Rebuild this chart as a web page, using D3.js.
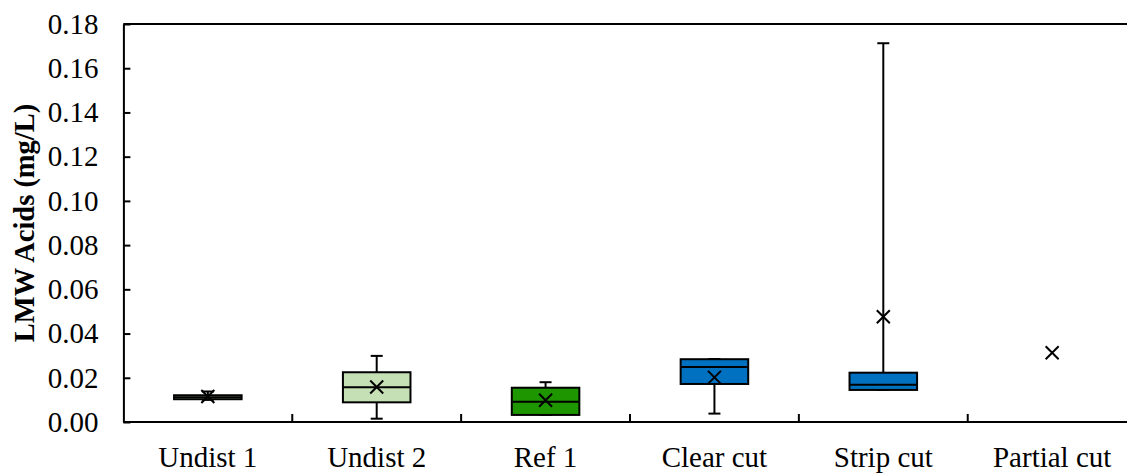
<!DOCTYPE html>
<html>
<head>
<meta charset="utf-8">
<script src="https://cdn.jsdelivr.net/npm/d3@7"></script>
<style>
  html, body { margin: 0; padding: 0; background: #fff; }
  svg { display: block; }
</style>
</head>
<body>
<svg id="chart" width="1127" height="473"></svg>
<script>
// Sites along the x axis
const categories = ["Undist 1", "Undist 2", "Ref 1", "Clear cut", "Strip cut", "Partial cut"];
// Box-plot statistics per site (mg/L); null where a site has only a mean
const minValues    = [0.0100, 0.0015, 0.0032, 0.0038, 0.0145, null];
const q1Values     = [0.0103, 0.0089, 0.0032, 0.0172, 0.0145, null];
const medianValues = [0.0112, 0.0157, 0.0092, 0.0249, 0.0169, null];
const q3Values     = [0.0121, 0.0225, 0.0155, 0.0284, 0.0223, null];
const maxValues    = [0.0138, 0.0299, 0.0180, 0.0285, 0.1713, null];
const meanValues   = [0.0115, 0.0158, 0.0098, 0.0202, 0.0476, 0.0313];
const fillColors   = ["#A9D18E", "#C5E0B4", "#1E9600", "#0070C0", "#0070C0", "#0070C0"];
const yTicks = [0, 0.02, 0.04, 0.06, 0.08, 0.10, 0.12, 0.14, 0.16, 0.18];

(function () {
  const svg = d3.select("#chart");
  const mLeft = 123.4, mRight = 1136.6, mTop = 24, mBottom = 422;
  const font = "'Liberation Serif', 'Times New Roman', serif";

  const x = d3.scaleBand().domain(categories).range([mLeft, mRight]).paddingInner(0).paddingOuter(0);
  const y = d3.scaleLinear().domain([0, 0.18]).range([mBottom, mTop]);

  const data = categories.map((c, i) => ({
    cat: c, min: minValues[i], q1: q1Values[i], med: medianValues[i],
    q3: q3Values[i], max: maxValues[i], mean: meanValues[i], fill: fillColors[i]
  }));

  // Plot frame (top and right edges)
  svg.append("line").attr("x1", mLeft).attr("x2", mRight).attr("y1", mTop).attr("y2", mTop)
    .attr("stroke", "#000").attr("stroke-width", 2);
  svg.append("line").attr("x1", mRight).attr("x2", mRight).attr("y1", mTop).attr("y2", mBottom)
    .attr("stroke", "#000").attr("stroke-width", 2);

  // Y axis with inward ticks
  const yAxis = svg.append("g").attr("transform", `translate(${mLeft},0)`)
    .call(d3.axisLeft(y).tickValues(yTicks).tickFormat(d3.format(".2f")).tickSizeInner(-7).tickSizeOuter(0).tickPadding(25));
  yAxis.attr("font-family", font).attr("font-size", 29);
  yAxis.select(".domain").attr("stroke", "#000").attr("stroke-width", 2);
  yAxis.selectAll(".tick line").attr("stroke", "#000").attr("stroke-width", 2);
  yAxis.selectAll(".tick text").attr("fill", "#000");

  // X axis: ticks between categories, pointing up
  const bounds = categories.slice(1).map(c => x(c));
  const xAxis = svg.append("g").attr("transform", `translate(0,${mBottom})`);
  xAxis.append("line").attr("x1", mLeft).attr("x2", mRight).attr("stroke", "#000").attr("stroke-width", 2);
  xAxis.selectAll(".sep").data(bounds).join("line").attr("class", "sep")
    .attr("x1", d => d).attr("x2", d => d).attr("y1", 0).attr("y2", -8)
    .attr("stroke", "#000").attr("stroke-width", 2);
  xAxis.selectAll(".lab").data(categories).join("text").attr("class", "lab")
    .attr("x", d => x(d) + x.bandwidth() / 2).attr("y", 45)
    .attr("text-anchor", "middle").attr("font-family", font).attr("font-size", 29).attr("fill", "#000")
    .text(d => d);

  // Y title
  svg.append("text").attr("transform", `translate(34,${(mTop + mBottom) / 2}) rotate(-90)`)
    .attr("text-anchor", "middle").attr("font-family", font).attr("font-size", 28.5).attr("font-weight", "bold")
    .text("LMW Acids (mg/L)");

  // Boxes
  const boxW = x.bandwidth() * 0.40;
  const capW = 12;
  const g = svg.append("g");
  data.forEach(d => {
    const cx = x(d.cat) + x.bandwidth() / 2;
    if (d.q1 !== null) {
      // whiskers
      g.append("line").attr("x1", cx).attr("x2", cx).attr("y1", y(d.max)).attr("y2", y(d.q3))
        .attr("stroke", "#000").attr("stroke-width", 2);
      g.append("line").attr("x1", cx).attr("x2", cx).attr("y1", y(d.q1)).attr("y2", y(d.min))
        .attr("stroke", "#000").attr("stroke-width", 2);
      g.append("line").attr("x1", cx - capW / 2).attr("x2", cx + capW / 2).attr("y1", y(d.max)).attr("y2", y(d.max))
        .attr("stroke", "#000").attr("stroke-width", 2);
      g.append("line").attr("x1", cx - capW / 2).attr("x2", cx + capW / 2).attr("y1", y(d.min)).attr("y2", y(d.min))
        .attr("stroke", "#000").attr("stroke-width", 2);
      // box
      g.append("rect").attr("x", cx - boxW / 2).attr("width", boxW)
        .attr("y", y(d.q3)).attr("height", y(d.q1) - y(d.q3))
        .attr("fill", d.fill).attr("stroke", "#000").attr("stroke-width", 2);
      // median
      g.append("line").attr("x1", cx - boxW / 2).attr("x2", cx + boxW / 2).attr("y1", y(d.med)).attr("y2", y(d.med))
        .attr("stroke", "#000").attr("stroke-width", 2);
    }
    // mean marker
    const my = y(d.mean), s = 6.5;
    g.append("path").attr("d", `M${cx - s},${my - s}L${cx + s},${my + s}M${cx - s},${my + s}L${cx + s},${my - s}`)
      .attr("stroke", "#000").attr("stroke-width", 2).attr("fill", "none");
  });
})();
</script>
</body>
</html>
